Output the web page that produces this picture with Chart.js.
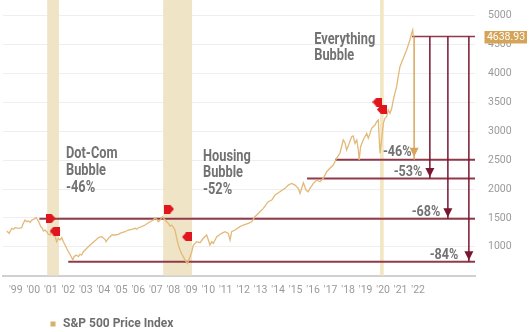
<!DOCTYPE html>
<html>
<head>
<meta charset="utf-8">
<script src="https://cdn.jsdelivr.net/npm/chart.js@4.4.0/dist/chart.umd.min.js"></script>
<style>
  html, body { margin: 0; padding: 0; background: #fff; }
  #wrap { width: 530px; height: 332px; }
</style>
</head>
<body>
<div id="wrap"><canvas id="grafik" width="530" height="332"></canvas></div>
<script>
// x axis: years, tick label sits on the whole-year value
const years = [1999, 2000, 2001, 2002, 2003, 2004, 2005, 2006, 2007, 2008, 2009, 2010,
  2011, 2012, 2013, 2014, 2015, 2016, 2017, 2018, 2019, 2020, 2021, 2022];
const yTicks = [1000, 1500, 2000, 2500, 3000, 3500, 4000, 4500, 5000];

// S&P 500 price index
const priceDates = [
  1998.49, 1998.62, 1998.77, 1998.86, 1998.96, 1999.15, 1999.34, 1999.43, 1999.53, 1999.63,
  1999.72, 1999.82, 1999.91, 2000.01, 2000.16, 2000.26, 2000.35, 2000.43, 2000.52, 2000.58,
  2000.67, 2000.77, 2000.86, 2000.96, 2001.06, 2001.15, 2001.25, 2001.34, 2001.43, 2001.53,
  2001.63, 2001.72, 2001.82, 2001.91, 2002.01, 2002.10, 2002.26, 2002.33, 2002.45, 2002.58,
  2002.67, 2002.77, 2002.86, 2003.06, 2003.25, 2003.43, 2003.63, 2003.72, 2003.91, 2004.10,
  2004.16, 2004.29, 2004.39, 2004.49, 2004.67, 2004.86, 2004.96, 2005.06, 2005.25, 2005.43,
  2005.63, 2005.82, 2005.91, 2006.01, 2006.20, 2006.39, 2006.58, 2006.77, 2006.86, 2006.96,
  2007.06, 2007.15, 2007.25, 2007.38, 2007.49, 2007.63, 2007.72, 2007.82, 2007.91, 2008.01,
  2008.10, 2008.20, 2008.29, 2008.39, 2008.49, 2008.58, 2008.67, 2008.81, 2008.96, 2009.06,
  2009.15, 2009.34, 2009.53, 2009.72, 2009.91, 2010.01, 2010.10, 2010.20, 2010.29, 2010.49,
  2010.77, 2010.96, 2011.15, 2011.25, 2011.34, 2011.53, 2011.82, 2012.01, 2012.29, 2012.49,
  2012.67, 2012.96, 2013.15, 2013.43, 2013.63, 2013.82, 2014.10, 2014.39, 2014.58, 2014.77,
  2014.96, 2015.15, 2015.25, 2015.44, 2015.59, 2015.72, 2015.82, 2016.01, 2016.20, 2016.39,
  2016.58, 2016.77, 2016.96, 2017.15, 2017.34, 2017.53, 2017.72, 2017.82, 2017.91, 2018.06,
  2018.20, 2018.29, 2018.39, 2018.49, 2018.58, 2018.63, 2018.71, 2018.86, 2018.96, 2019.06,
  2019.15, 2019.25, 2019.34, 2019.43, 2019.53, 2019.63, 2019.72, 2019.82, 2019.91, 2020.01,
  2020.10, 2020.20, 2020.29, 2020.39, 2020.49, 2020.58, 2020.67, 2020.77, 2020.86, 2020.96,
  2021.15, 2021.34, 2021.53, 2021.63, 2021.69, 2021.72
];
const priceValues = [
  1273, 1233, 1320, 1303, 1330, 1320, 1330, 1406, 1463, 1434,
  1446, 1423, 1463, 1475, 1503, 1463, 1406, 1348, 1320, 1273,
  1290, 1261, 1216, 1204, 1273, 1244, 1175, 1088, 1147, 1118,
  1158, 1088, 1031, 974, 915, 870, 772, 829, 858, 829,
  870, 858, 915, 974, 1031, 1078, 1130, 1158, 1175, 1130,
  1088, 1147, 1175, 1204, 1204, 1216, 1233, 1244, 1261, 1290,
  1303, 1320, 1303, 1330, 1348, 1377, 1417, 1446, 1463, 1503,
  1475, 1434, 1463, 1520, 1480, 1434, 1406, 1360, 1377, 1337,
  1290, 1147, 1031, 945, 870, 829, 772, 714, 829, 915,
  1031, 1088, 1072, 1147, 1204, 1118, 1031, 1088, 1060, 1175,
  1233, 1261, 1233, 1118, 1261, 1290, 1348, 1377, 1406, 1434,
  1520, 1607, 1665, 1780, 1808, 1895, 1953, 2011, 2068, 2097,
  2068, 2011, 1924, 2109, 1983, 1953, 2012, 2098, 2156, 2126,
  2185, 2299, 2358, 2415, 2531, 2618, 2848, 2801, 2675, 2790,
  2905, 2917, 2790, 2848, 2675, 2502, 2732, 2848, 2905, 2963,
  2877, 2963, 3050, 3078, 3107, 3164, 3193, 2620, 2848, 3137,
  3223, 3251, 3367, 3310, 3396, 3540, 3655, 3770, 3943, 4116,
  4261, 4405, 4578, 4694, 4751, 4638.93
];
const lastClose = 4638.93;

// bubbles: shaded span from peak to crash
const bubbleNames = [['Dot-Com', 'Bubble'], ['Housing', 'Bubble'], ['Everything', 'Bubble']];
const bubbleDrops = [-46, -52, null];
const bubbleStart = [2000.79, 2007.42, 2019.82];
const bubbleEnd = [2001.47, 2009.09, 2020.04];

// peak / trough flags
const flagDates = [2000.99, 2001.22, 2007.76, 2008.79, 2019.67, 2019.93];
const flagValues = [1490, 1273, 1654, 1170, 3505, 3375];
const flagDirs = ['right', 'left', 'right', 'left', 'left', 'left'];

// possible drawdowns from the last close
const drawdownPct = [-46, -53, -68, -84];
const drawdownArrowAt = [2021.77, 2022.67, 2023.70, 2024.90];
const drawdownLineFrom = [2017.25, 2015.65, 2000.35, 2002.0];
const lastCloseLineFrom = 2021.65;

const X_MIN = 1998.27, X_MAX = 2025.25, Y_MIN = 500, Y_MAX = 5270;

const LINE = '#e2b978';
const MAROON = '#8f3a4a';
const MAROON_DARK = '#7a1530';
const GOLD = '#d8a558';
const GRAY_TEXT = '#727272';
const drawdownLevels = drawdownPct.map(p => lastClose * (1 + p / 100));
const arrowColors = [GOLD, MAROON_DARK, MAROON_DARK, MAROON_DARK];

// text placement for the bubble captions (data coords of first baseline)
const bubbleTextAt = [{ x: 2001.87, y: 2531, lh: 16.7 }, { x: 2009.70, y: 2493, lh: 16.5 }, { x: 2016.06, y: 4503, lh: 16 }];
// pixel nudges for the percentage labels next to the arrows
const pctNudge = [{ dx: -2.5, dy: -4 }, { dx: -7.5, dy: -3 }, { dx: -7.5, dy: -3 }, { dx: -10.5, dy: -2.5 }];

function flagImage(dir) {
  const c = document.createElement('canvas');
  c.width = 10; c.height = 9;
  const g = c.getContext('2d');
  g.fillStyle = '#e0161e';
  g.beginPath();
  if (dir === 'right') {
    g.moveTo(0, 0); g.lineTo(6, 0); g.lineTo(10, 4.5); g.lineTo(6, 9); g.lineTo(0, 9);
  } else {
    g.moveTo(10, 0); g.lineTo(4, 0); g.lineTo(0, 4.5); g.lineTo(4, 9); g.lineTo(10, 9);
  }
  g.closePath();
  g.fill();
  return c;
}

const datasets = [];

bubbleStart.forEach((s, i) => {
  datasets.push({
    data: [{ x: s, y: Y_MAX }, { x: bubbleEnd[i], y: Y_MAX }],
    borderWidth: 0, pointRadius: 0, fill: 'start',
    backgroundColor: i === 2 ? '#f3e6c2' : '#f0e4c6',
    order: 10,
  });
});

datasets.push({
  data: [{ x: lastCloseLineFrom, y: lastClose }, { x: X_MAX, y: lastClose }],
  borderColor: MAROON, borderWidth: 1.6, pointRadius: 0, order: 6,
});
drawdownLevels.forEach((lvl, i) => {
  datasets.push({
    data: [{ x: drawdownLineFrom[i], y: lvl }, { x: X_MAX, y: lvl }],
    borderColor: MAROON, borderWidth: 2, pointRadius: 0, order: 6,
  });
});

datasets.push({
  label: 'S&P 500 Price Index',
  data: priceDates.map((d, i) => ({ x: d, y: priceValues[i] })),
  borderColor: LINE, borderWidth: 1.3, pointRadius: 0, tension: 0, order: 4,
});

drawdownLevels.forEach((lvl, i) => {
  datasets.push({
    data: [{ x: drawdownArrowAt[i], y: lastClose }, { x: drawdownArrowAt[i], y: lvl }],
    borderColor: arrowColors[i], borderWidth: 1.5, pointRadius: 0, order: 2,
    arrowHead: true,
  });
});

datasets.push({
  data: flagDates.map((d, i) => ({ x: d, y: flagValues[i] })),
  showLine: false,
  pointStyle: flagDirs.map(flagImage),
  order: 0,
});

function condensed(g, text, x, y, font, color, align, sx) {
  g.save();
  g.font = font;
  g.fillStyle = color;
  g.textAlign = align;
  g.textBaseline = 'alphabetic';
  g.translate(x, y);
  g.scale(sx, 1);
  g.fillText(text, 0, 0);
  g.restore();
}

const overlay = {
  id: 'overlay',
  afterDatasetsDraw(chart) {
    const g = chart.ctx;
    const xs = chart.scales.x, ys = chart.scales.y;
    const area = chart.chartArea;

    // arrow heads
    chart.data.datasets.forEach((ds) => {
      if (!ds.arrowHead) return;
      const end = ds.data[1];
      const px = xs.getPixelForValue(end.x);
      const py = ys.getPixelForValue(end.y) - (ds.borderColor === GOLD ? 3 : 1.5);
      g.save();
      g.fillStyle = ds.borderColor;
      g.beginPath();
      g.moveTo(px, py);
      g.lineTo(px - 4.5, py - 9);
      g.lineTo(px + 4.5, py - 9);
      g.closePath();
      g.fill();
      g.restore();
    });

    // bubble captions
    bubbleNames.forEach((lines, i) => {
      const at = bubbleTextAt[i];
      const px = xs.getPixelForValue(at.x);
      const py = ys.getPixelForValue(at.y);
      const rows = lines.slice();
      if (bubbleDrops[i] !== null) rows.push(bubbleDrops[i] + '%');
      rows.forEach((t, r) => {
        condensed(g, t, px, py + r * at.lh, 'bold 16px Roboto', GRAY_TEXT, 'left', 0.8);
      });
    });

    // percentage labels by the arrows
    drawdownPct.forEach((p, i) => {
      const px = xs.getPixelForValue(drawdownArrowAt[i]) + pctNudge[i].dx;
      const py = ys.getPixelForValue(drawdownLevels[i]) + pctNudge[i].dy;
      condensed(g, p + '%', px, py, 'bold 14px Roboto', GRAY_TEXT, 'right', 0.9);
    });

    // last close tag on the value axis
    const ty = ys.getPixelForValue(lastClose);
    g.save();
    g.fillStyle = '#d6a458';
    g.fillRect(area.right + 9.5, ty - 5.5, 42.5, 12.5);
    g.fillStyle = '#fff';
    g.font = '10.5px Roboto';
    g.textAlign = 'center';
    g.textBaseline = 'middle';
    g.fillText(lastClose.toFixed(2), area.right + 31, ty + 1);
    g.restore();

    // legend
    g.save();
    g.fillStyle = '#d9b06a';
    g.fillRect(50.5, 321.5, 5, 5);
    g.fillStyle = '#6e6e6e';
    g.font = 'bold 12px Roboto';
    g.textBaseline = 'middle';
    g.fillText(chart.data.datasets.find(d => d.label).label, 63, 324);
    g.restore();
  },
};

function noPad(s) {
  s.paddingTop = 0; s.paddingBottom = 0; s.paddingLeft = 0; s.paddingRight = 0;
}

new Chart(document.getElementById('grafik'), {
  type: 'line',
  data: { datasets },
  options: {
    responsive: false,
    animation: false,
    events: [],
    layout: { autoPadding: false, padding: { left: 3, top: 0, right: 0, bottom: 0 } },
    scales: {
      x: {
        type: 'linear',
        min: X_MIN,
        max: X_MAX,
        afterBuildTicks: (s) => { s.ticks = years.map(v => ({ value: v })); },
        afterFit: (s) => { s.height = 56.3; noPad(s); },
        grid: { display: false, drawTicks: false },
        border: { color: '#d0d0d0', width: 2 },
        ticks: {
          autoSkip: false, maxRotation: 0, padding: 8,
          color: '#9a9a9a', font: { family: 'Roboto', size: 10.5 },
          callback: (v) => "'" + String(v).slice(2),
        },
      },
      y: {
        position: 'right',
        min: Y_MIN,
        max: Y_MAX,
        afterBuildTicks: (s) => { s.ticks = yTicks.map(v => ({ value: v })); },
        afterFit: (s) => { s.width = 55; noPad(s); },
        grid: { color: '#eeeeee', drawTicks: false },
        border: { display: false },
        ticks: {
          padding: 13, color: '#9a9a9a', font: { family: 'Roboto', size: 10.5 },
          callback: (v) => String(v),
        },
      },
    },
    plugins: { legend: { display: false }, tooltip: { enabled: false } },
  },
  plugins: [overlay],
});
</script>
</body>
</html>
